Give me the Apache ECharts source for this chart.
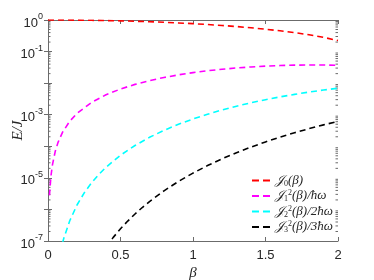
<!DOCTYPE html>
<html><head><meta charset="utf-8">
<script src="https://cdn.jsdelivr.net/npm/echarts@6/dist/echarts.min.js"></script>
<style>html,body{margin:0;padding:0;background:#fff}#c{width:374px;height:280px}</style>
</head><body><div id="c"></div>
<script>
// beta grid and values
const betaRed = [0,0.1,0.2,0.3,0.4,0.5,0.6,0.7,0.8,0.9,1.0,1.1,1.2,1.3,1.4,1.5,1.6,1.7,1.8,1.9,2.0];
const valRed = [1,0.997502,0.990025,0.977626,0.960398,0.938470,0.912005,0.881201,0.846287,0.807524,0.765198,0.719622,0.671133,0.620086,0.566855,0.511828,0.455402,0.397985,0.339986,0.281819,0.223891];

const betaMag = [0.01,0.02,0.03,0.05,0.07,0.1,0.15,0.2,0.3,0.4,0.5,0.6,0.7,0.8,0.9,1.0,1.1,1.2,1.3,1.4,1.5,1.6,1.7,1.8,1.9,2.0];
const valMag = [2.778e-6,1.111e-5,2.4994e-5,6.940e-5,1.3595e-4,2.7709e-4,6.215e-4,1.1001e-3,2.4443e-3,4.2696e-3,6.5215e-3,9.1330e-3,0.012026,0.015116,0.018311,0.021516,0.024639,0.027588,0.030279,0.032634,0.034588,0.036087,0.037090,0.037574,0.037527,0.036957];

const betaCyan = [0.1,0.11,0.15,0.2,0.25,0.3,0.35,0.4,0.5,0.6,0.7,0.8,0.9,1.0,1.1,1.2,1.3,1.4,1.5,1.6,1.7,1.8,1.9,2.0];
const valCyan = [8.667e-8,1.268e-7,4.378e-7,1.3795e-6,3.3557e-6,6.9266e-6,1.27627e-5,2.1637e-5,5.2033e-5,1.05924e-4,1.91995e-4,3.19354e-4,4.97028e-4,7.3348e-4,1.03610e-3,1.41067e-3,1.86105e-3,2.38869e-3,2.99249e-3,3.66847e-3,4.40983e-3,5.20689e-3,6.04730e-3,6.91621e-3];

const betaBlk = [0.4,0.45,0.5,0.55,0.6,0.65,0.7,0.8,0.9,1.0,1.1,1.2,1.3,1.4,1.5,1.6,1.7,1.8,1.9,2.0];
const valBlk = [6.453e-8,1.3013e-7,2.4349e-7,4.2830e-7,7.170e-7,1.14986e-6,1.7787e-6,3.8889e-6,7.7163e-6,1.41745e-5,2.44531e-5,4.00259e-5,6.26730e-5,9.44462e-5,1.376522e-4,1.948e-4,2.68538e-4,3.61549e-4,4.76474e-4,6.15789e-4];

const xTicks = [0,0.5,1,1.5,2];
const yLabelExps = [0,-1,-3,-5,-7];
const seriesNames = ['J0','J1','J2','J3'];
const legendTexts = {
  J0: '{c|𝒥}{s|0}{m|(β)}',
  J1: '{c|𝒥}{s|1}{p|2}{m|(β)/ħω}',
  J2: '{c|𝒥}{s|2}{p|2}{m|(β)/2ħω}',
  J3: '{c|𝒥}{s|3}{p|2}{m|(β)/3ħω}'
};
const colors = ['#ff0000','#ff00ff','#00ffff','#000000'];

const zip = (a,b) => a.map((x,i)=>[x,b[i]]);
const axisColor = '#6b6b6b';
const textColor = '#262626';

const chart = echarts.init(document.getElementById('c'));
const mkSeries = (name, xs, ys, col) => ({
  name, type:'line', data: zip(xs,ys), symbol:'none', clip:true,
  lineStyle:{color:col, width:1.6, type:[6,4]}, itemStyle:{color:col}
});
const option = {
  animation:false,
  backgroundColor:'#fff',
  grid:{left:48, right:36, top:20, bottom:39, containLabel:false, outerBoundsMode:'none'},
  xAxis:[{
    type:'value', min:0, max:2, interval:0.5,
    axisLine:{lineStyle:{color:axisColor}},
    axisTick:{inside:true, length:4, lineStyle:{color:axisColor}},
    splitLine:{show:false},
    axisLabel:{color:textColor, fontSize:13, fontFamily:'Liberation Sans', margin:8,
      formatter:v=> xTicks.includes(v) ? String(v) : ''},
    name:'β', nameLocation:'middle', nameGap:25, nameMoveOverlap:false,
    nameTextStyle:{color:textColor, fontSize:15, fontStyle:'italic', fontFamily:'Liberation Serif'}
  },{
    type:'value', min:0, max:2, interval:0.5, position:'top',
    axisLine:{lineStyle:{color:axisColor}},
    axisTick:{inside:true, length:4, lineStyle:{color:axisColor}},
    axisLabel:{show:false}, splitLine:{show:false}
  }],
  yAxis:[{
    type:'log', logBase:10, min:1e-7, max:1, interval:1,
    axisLine:{show:true, lineStyle:{color:axisColor}},
    axisTick:{show:true, inside:true, length:4, lineStyle:{color:axisColor}},
    splitLine:{show:false},
    axisLabel:{color:textColor, fontSize:13, fontFamily:'Liberation Sans', margin:5,
      formatter:v=>{ const e=Math.round(Math.log10(v)); return yLabelExps.includes(e) ? '{b|10}{p|'+(e===0?'0':'-'+(-e))+'}' : ''; },
      rich:{b:{fontSize:13, color:textColor, fontFamily:'Liberation Sans', padding:[6,0,0,0]}, p:{fontSize:9, color:textColor, fontFamily:'Liberation Sans', padding:[0,0,6,0]}}},
    name:'E/J', nameLocation:'middle', nameGap:22, nameMoveOverlap:false,
    nameTextStyle:{color:textColor, fontSize:15, fontStyle:'italic', fontFamily:'Liberation Serif'}
  },{
    type:'log', logBase:10, min:1e-7, max:1, interval:1, position:'right',
    axisLine:{show:true, lineStyle:{color:axisColor}},
    axisTick:{show:true, inside:true, length:4, lineStyle:{color:axisColor}},
    axisLabel:{show:false}, splitLine:{show:false}
  }],
  legend:{
    data:seriesNames, orient:'vertical', left:247, top:169,
    itemWidth:18, itemHeight:12, itemGap:1.5, icon:'path://M0,0L7,0L7,2L0,2Z M11,0L18,0L18,2L11,2Z',
    formatter:n=>legendTexts[n],
    textStyle:{color:textColor, fontSize:13, fontFamily:'Liberation Serif',
      rich:{
        c:{fontSize:13, fontStyle:'italic', fontFamily:'DejaVu Serif', color:textColor},
        m:{fontSize:13, fontStyle:'italic', fontFamily:'Liberation Serif', color:textColor},
        s:{fontSize:8, fontFamily:'Liberation Serif', color:textColor, padding:[6,0,0,0]},
        p:{fontSize:8, fontFamily:'Liberation Serif', color:textColor, padding:[0,0,6,0]}
      }}
  },
  series:[
    mkSeries('J0', betaRed, valRed, colors[0]),
    mkSeries('J1', betaMag, valMag, colors[1]),
    mkSeries('J2', betaCyan, valCyan, colors[2]),
    mkSeries('J3', betaBlk, valBlk, colors[3])
  ]
};
chart.setOption(option);
// log-spaced minor ticks on left and right axes
const g = [];
const xl = chart.convertToPixel({xAxisIndex:0}, 0);
const xr = chart.convertToPixel({xAxisIndex:0}, 2);
for (let e=-7; e<0; e++) {
  for (let m=2; m<=9; m++) {
    const y = chart.convertToPixel({yAxisIndex:0}, m*Math.pow(10,e));
    g.push({type:'line', shape:{x1:xl, y1:y, x2:xl+2.5, y2:y}, style:{stroke:axisColor, lineWidth:1}, silent:true});
    g.push({type:'line', shape:{x1:xr, y1:y, x2:xr-2.5, y2:y}, style:{stroke:axisColor, lineWidth:1}, silent:true});
  }
}
chart.setOption({graphic:g});
</script></body></html>
